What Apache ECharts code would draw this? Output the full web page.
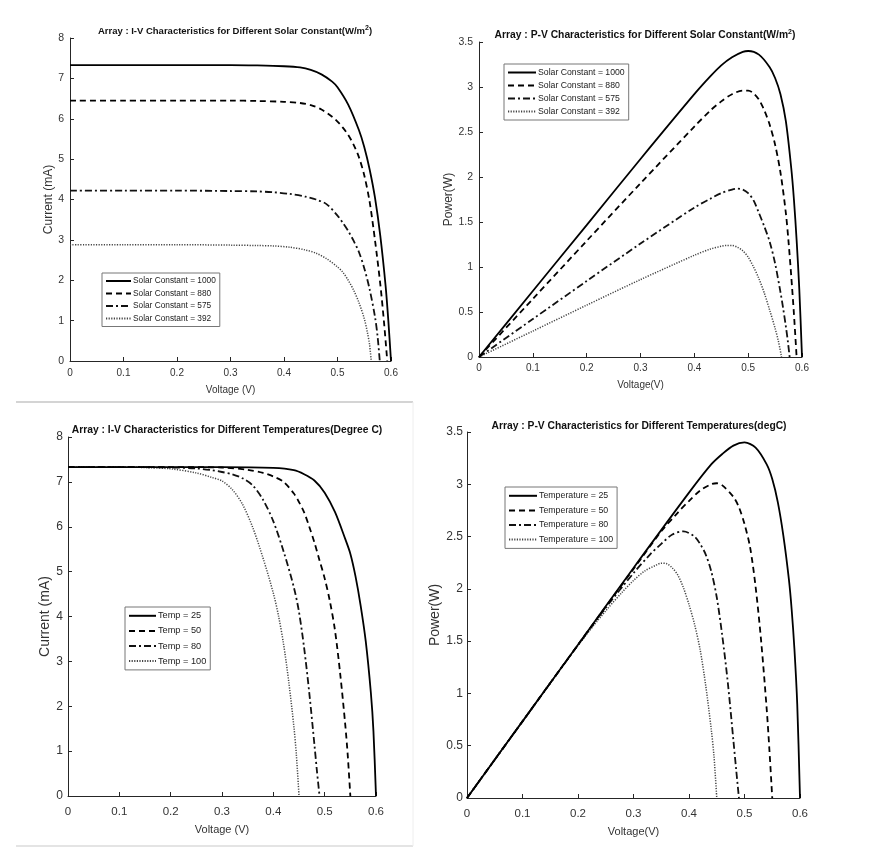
<!DOCTYPE html>
<html>
<head>
<meta charset="utf-8">
<script src="https://cdn.jsdelivr.net/npm/echarts@6/dist/echarts.min.js"></script>
<style>
html,body{margin:0;padding:0;background:#fff;}
#main{width:893px;height:855px;}
</style>
</head>
<body>
<div id="main"></div>
<script>
// legend names
var sunNames = ['Solar Constant = 1000', 'Solar Constant = 880', 'Solar Constant = 575', 'Solar Constant = 392'];
var tempIvNames = ['Temp = 25', 'Temp = 50', 'Temp = 80', 'Temp = 100'];
var tempPvNames = ['Temperature = 25', 'Temperature = 50', 'Temperature = 80', 'Temperature = 100'];

// axis ticks
var voltTicks = [0, 0.1, 0.2, 0.3, 0.4, 0.5, 0.6];
var currentTicks = [0, 1, 2, 3, 4, 5, 6, 7, 8];
var powerTicks = [0, 0.5, 1, 1.5, 2, 2.5, 3, 3.5];

// I-V, solar constant (voltage V / current mA)
var ivSun1000V = [0, 0.1, 0.2, 0.3, 0.35, 0.4, 0.43, 0.45, 0.47, 0.49, 0.5, 0.52, 0.54, 0.55, 0.56, 0.57, 0.58, 0.59, 0.595, 0.6];
var ivSun1000I = [7.33, 7.33, 7.33, 7.33, 7.32, 7.3, 7.27, 7.21, 7.1, 6.92, 6.78, 6.35, 5.72, 5.3, 4.75, 4.05, 3.1, 1.85, 1.0, 0];
var ivSun880V = [0, 0.1, 0.2, 0.3, 0.35, 0.4, 0.43, 0.45, 0.47, 0.49, 0.5, 0.51, 0.52, 0.53, 0.54, 0.55, 0.56, 0.57, 0.58, 0.587, 0.593];
var ivSun880I = [6.45, 6.45, 6.45, 6.45, 6.44, 6.42, 6.39, 6.34, 6.23, 6.05, 5.93, 5.78, 5.6, 5.36, 5.05, 4.6, 3.95, 3.0, 1.9, 0.95, 0];
var ivSun575V = [0, 0.1, 0.2, 0.3, 0.35, 0.38, 0.41, 0.44, 0.46, 0.48, 0.5, 0.51, 0.52, 0.53, 0.54, 0.55, 0.56, 0.57, 0.575, 0.579];
var ivSun575I = [4.22, 4.22, 4.22, 4.21, 4.2, 4.18, 4.14, 4.07, 4.0, 3.88, 3.6, 3.42, 3.22, 2.98, 2.7, 2.3, 1.78, 1.1, 0.6, 0];
var ivSun392V = [0, 0.1, 0.2, 0.3, 0.35, 0.38, 0.41, 0.44, 0.46, 0.48, 0.5, 0.51, 0.52, 0.53, 0.54, 0.55, 0.556, 0.56, 0.563];
var ivSun392I = [2.88, 2.88, 2.88, 2.87, 2.86, 2.85, 2.82, 2.75, 2.67, 2.53, 2.33, 2.2, 2.0, 1.76, 1.45, 1.05, 0.7, 0.4, 0];

// P-V, solar constant (voltage V / power W)
var pvSun1000V = [0, 0.1, 0.2, 0.3, 0.4, 0.43, 0.45, 0.47, 0.49, 0.5, 0.52, 0.54, 0.55, 0.56, 0.57, 0.58, 0.585, 0.59, 0.595, 0.6];
var pvSun1000P = [0, 0.733, 1.466, 2.2, 2.92, 3.12, 3.24, 3.33, 3.39, 3.4, 3.36, 3.22, 3.1, 2.92, 2.62, 2.1, 1.75, 1.3, 0.75, 0];
var pvSun880V = [0, 0.1, 0.2, 0.3, 0.4, 0.43, 0.45, 0.47, 0.49, 0.5, 0.51, 0.52, 0.53, 0.54, 0.55, 0.56, 0.57, 0.575, 0.58, 0.585, 0.59];
var pvSun880P = [0, 0.645, 1.29, 1.93, 2.56, 2.74, 2.84, 2.92, 2.96, 2.96, 2.93, 2.86, 2.74, 2.58, 2.36, 2.05, 1.6, 1.28, 0.9, 0.48, 0];
var pvSun575V = [0, 0.1, 0.2, 0.3, 0.4, 0.43, 0.45, 0.47, 0.48, 0.49, 0.5, 0.51, 0.52, 0.53, 0.54, 0.55, 0.56, 0.565, 0.57, 0.574, 0.577];
var pvSun575P = [0, 0.422, 0.844, 1.26, 1.66, 1.76, 1.82, 1.86, 1.87, 1.86, 1.82, 1.74, 1.6, 1.45, 1.28, 1.04, 0.72, 0.54, 0.34, 0.16, 0];
var pvSun392V = [0, 0.1, 0.2, 0.3, 0.4, 0.43, 0.45, 0.46, 0.47, 0.48, 0.49, 0.5, 0.51, 0.52, 0.53, 0.54, 0.55, 0.556, 0.562];
var pvSun392P = [0, 0.288, 0.576, 0.86, 1.13, 1.2, 1.23, 1.24, 1.24, 1.22, 1.18, 1.11, 1.0, 0.87, 0.71, 0.52, 0.32, 0.18, 0];

// I-V, temperature
var ivT25V = [0, 0.1, 0.2, 0.3, 0.4, 0.44, 0.46, 0.48, 0.5, 0.52, 0.54, 0.55, 0.56, 0.57, 0.58, 0.59, 0.595, 0.6];
var ivT25I = [7.33, 7.33, 7.33, 7.33, 7.31, 7.26, 7.17, 7.03, 6.76, 6.33, 5.73, 5.4, 4.9, 4.25, 3.45, 2.3, 1.45, 0];
var ivT50V = [0, 0.1, 0.2, 0.3, 0.35, 0.38, 0.4, 0.42, 0.44, 0.45, 0.46, 0.47, 0.48, 0.49, 0.5, 0.51, 0.52, 0.53, 0.54, 0.545, 0.55];
var ivT50I = [7.33, 7.33, 7.33, 7.32, 7.27, 7.2, 7.12, 7.0, 6.74, 6.55, 6.32, 6.0, 5.65, 5.25, 4.85, 4.35, 3.7, 2.75, 1.6, 0.9, 0];
var ivT80V = [0, 0.1, 0.2, 0.25, 0.28, 0.3, 0.32, 0.34, 0.36, 0.38, 0.4, 0.42, 0.44, 0.45, 0.46, 0.47, 0.48, 0.485, 0.49];
var ivT80I = [7.33, 7.33, 7.32, 7.3, 7.26, 7.22, 7.17, 7.08, 6.92, 6.6, 6.12, 5.45, 4.65, 4.1, 3.3, 2.3, 1.15, 0.55, 0];
var ivT100V = [0, 0.1, 0.15, 0.2, 0.25, 0.28, 0.3, 0.32, 0.34, 0.36, 0.38, 0.4, 0.41, 0.42, 0.43, 0.44, 0.445, 0.45];
var ivT100I = [7.33, 7.33, 7.32, 7.29, 7.2, 7.1, 7.02, 6.83, 6.5, 5.98, 5.3, 4.52, 4.02, 3.38, 2.55, 1.55, 0.9, 0];

// P-V, temperature
var pvT25V = [0, 0.1, 0.2, 0.3, 0.4, 0.44, 0.46, 0.48, 0.5, 0.52, 0.54, 0.55, 0.56, 0.57, 0.58, 0.585, 0.59, 0.595, 0.6];
var pvT25P = [0, 0.733, 1.466, 2.2, 2.92, 3.19, 3.29, 3.37, 3.4, 3.35, 3.19, 3.05, 2.83, 2.51, 2.09, 1.8, 1.42, 0.9, 0];
var pvT50V = [0, 0.1, 0.2, 0.3, 0.35, 0.38, 0.4, 0.42, 0.44, 0.45, 0.46, 0.48, 0.49, 0.5, 0.51, 0.52, 0.53, 0.54, 0.545, 0.55];
var pvT50P = [0, 0.733, 1.466, 2.19, 2.55, 2.73, 2.84, 2.94, 3.0, 3.01, 2.99, 2.88, 2.78, 2.62, 2.4, 2.02, 1.5, 0.85, 0.45, 0];
var pvT80V = [0, 0.1, 0.2, 0.25, 0.3, 0.33, 0.35, 0.37, 0.39, 0.41, 0.42, 0.43, 0.44, 0.45, 0.46, 0.47, 0.48, 0.485, 0.49];
var pvT80P = [0, 0.733, 1.462, 1.82, 2.15, 2.33, 2.43, 2.52, 2.55, 2.5, 2.43, 2.33, 2.17, 1.92, 1.55, 1.1, 0.55, 0.27, 0];
var pvT100V = [0, 0.1, 0.15, 0.2, 0.25, 0.28, 0.3, 0.32, 0.34, 0.35, 0.36, 0.37, 0.38, 0.39, 0.4, 0.41, 0.42, 0.43, 0.44, 0.445, 0.45];
var pvT100P = [0, 0.733, 1.098, 1.46, 1.79, 1.97, 2.08, 2.17, 2.225, 2.245, 2.24, 2.2, 2.13, 2.01, 1.85, 1.66, 1.42, 1.08, 0.66, 0.4, 0];

var FONT = 'Arial, "Liberation Sans", sans-serif';
var AXIS_COLOR = '#262626';
// solid, dashed, dash-dot, dotted
var lineTypes = ['solid', [6, 4], [7, 3, 2, 3], [1.2, 1.4]];
var lineWidths = [1.8, 1.8, 1.8, 1.5];
var lineColors = ['#000', '#000', '#111', '#444'];

var chart = echarts.init(document.getElementById('main'));

function pairs(v, y) {
	return v.map(function (x, i) { return [x, y[i]]; });
}

function curve(name, v, y, k, idx) {
	return {
		name: name,
		type: 'line',
		xAxisIndex: idx,
		yAxisIndex: idx,
		data: pairs(v, y),
		symbol: 'none',
		smooth: 0.3,
		silent: true,
		z: 10 - k,
		itemStyle: { color: lineColors[k] },
		lineStyle: { color: lineColors[k], width: lineWidths[k], type: lineTypes[k] }
	};
}

// o: {fs, lm, name, nfs, gap}
function xAx(idx, o) {
	return {
		gridIndex: idx, type: 'value', min: voltTicks[0], max: voltTicks[voltTicks.length - 1],
		interval: voltTicks[1] - voltTicks[0],
		name: o.name, nameLocation: 'middle', nameGap: o.gap,
		nameTextStyle: { color: '#333', fontSize: o.nfs, fontFamily: FONT },
		axisLine: { lineStyle: { color: AXIS_COLOR, width: 1 } },
		axisTick: { inside: true, length: 4, lineStyle: { color: AXIS_COLOR } },
		axisLabel: { color: '#333', fontSize: o.fs, fontFamily: FONT, margin: o.lm },
		splitLine: { show: false }
	};
}

function yAx(idx, ticks, o) {
	return {
		gridIndex: idx, type: 'value', min: ticks[0], max: ticks[ticks.length - 1],
		interval: ticks[1] - ticks[0],
		name: o.name, nameLocation: 'middle', nameGap: o.gap,
		nameTextStyle: { color: '#333', fontSize: o.nfs, fontFamily: FONT },
		axisLine: { show: true, lineStyle: { color: AXIS_COLOR, width: 1 } },
		axisTick: { show: true, inside: true, length: 4, lineStyle: { color: AXIS_COLOR } },
		axisLabel: { color: '#333', fontSize: o.fs, fontFamily: FONT, margin: o.lm },
		splitLine: { show: false }
	};
}

function legendAt(names, left, top, fs, gap, iw, ih) {
	return {
		data: names, orient: 'vertical', left: left, top: top,
		selectedMode: false,
		backgroundColor: '#fff', borderColor: '#777', borderWidth: 1, borderRadius: 0,
		padding: [4, 4, 4, 3], itemGap: gap, itemWidth: iw, itemHeight: ih,
		// 图例不画圆点
		itemStyle: { color: 'rgba(0,0,0,0)', borderWidth: 0, opacity: 0 },
		textStyle: { color: '#222', fontSize: fs, fontFamily: FONT, padding: [0, 0, 0, -3] }
	};
}

function title(text, left, top, fs) {
	return {
		text: text, left: left, top: top, textAlign: 'center',
		textStyle: {
			color: '#111', fontSize: fs, fontWeight: 'bold', fontFamily: FONT,
			rich: { sup: { fontSize: 7, fontWeight: 'bold', fontFamily: FONT, color: '#111', padding: [0, 0, 6, 0] } }
		}
	};
}

var series = [];
series.push(curve(sunNames[0], ivSun1000V, ivSun1000I, 0, 0));
series.push(curve(sunNames[1], ivSun880V, ivSun880I, 1, 0));
series.push(curve(sunNames[2], ivSun575V, ivSun575I, 2, 0));
series.push(curve(sunNames[3], ivSun392V, ivSun392I, 3, 0));
series.push(curve(sunNames[0], pvSun1000V, pvSun1000P, 0, 1));
series.push(curve(sunNames[1], pvSun880V, pvSun880P, 1, 1));
series.push(curve(sunNames[2], pvSun575V, pvSun575P, 2, 1));
series.push(curve(sunNames[3], pvSun392V, pvSun392P, 3, 1));
series.push(curve(tempIvNames[0], ivT25V, ivT25I, 0, 2));
series.push(curve(tempIvNames[1], ivT50V, ivT50I, 1, 2));
series.push(curve(tempIvNames[2], ivT80V, ivT80I, 2, 2));
series.push(curve(tempIvNames[3], ivT100V, ivT100I, 3, 2));
series.push(curve(tempPvNames[0], pvT25V, pvT25P, 0, 3));
series.push(curve(tempPvNames[1], pvT50V, pvT50P, 1, 3));
series.push(curve(tempPvNames[2], pvT80V, pvT80P, 2, 3));
series.push(curve(tempPvNames[3], pvT100V, pvT100P, 3, 3));

var option = {
	backgroundColor: '#fff',
	animation: false,
	title: [
		title('Array : I-V Characteristics for Different Solar Constant(W/m{sup|2})', 230, 20, 9.5),
		title('Array : P-V Characteristics for Different Solar Constant(W/m{sup|2})', 640, 24, 10.3),
		title('Array : I-V Characteristics for Different Temperatures(Degree C)', 222, 420, 10.3),
		title('Array : P-V Characteristics for Different Temperatures(degC)', 634, 416, 10.3)
	],
	grid: [
		{ left: 70, top: 38, width: 321, height: 323 },
		{ left: 479, top: 42, width: 323, height: 315 },
		{ left: 68, top: 437, width: 308, height: 359 },
		{ left: 467, top: 432, width: 333, height: 366 }
	],
	xAxis: [
		xAx(0, { fs: 10, lm: 7, name: 'Voltage (V)', nfs: 10, gap: 24 }),
		xAx(1, { fs: 10, lm: 6, name: 'Voltage(V)', nfs: 10, gap: 23 }),
		xAx(2, { fs: 11.5, lm: 10, name: 'Voltage (V)', nfs: 11, gap: 28 }),
		xAx(3, { fs: 11.5, lm: 10, name: 'Voltage(V)', nfs: 11, gap: 28.5 })
	],
	yAxis: [
		yAx(0, currentTicks, { fs: 10.5, lm: 6, name: 'Current (mA)', nfs: 12, gap: 11 }),
		yAx(1, powerTicks, { fs: 10.5, lm: 6, name: 'Power(W)', nfs: 12, gap: 21 }),
		yAx(2, currentTicks, { fs: 12, lm: 5, name: 'Current (mA)', nfs: 14, gap: 12 }),
		yAx(3, powerTicks, { fs: 12, lm: 4, name: 'Power(W)', nfs: 14, gap: 19 })
	],
	legend: [
		legendAt(sunNames, 102, 273, 8.3, 4.5, 25, 10),
		legendAt(sunNames, 504, 64, 8.7, 4, 28, 10),
		legendAt(tempIvNames, 125, 607, 9.2, 5.5, 27, 12),
		legendAt(tempPvNames, 505, 487, 8.8, 5, 28, 12)
	],
	graphic: [
		{ type: 'line', shape: { x1: 16, y1: 402, x2: 413, y2: 402 }, style: { stroke: '#d4d4d4', lineWidth: 2 }, silent: true },
		{ type: 'line', shape: { x1: 16, y1: 846, x2: 413, y2: 846 }, style: { stroke: '#e4e4e4', lineWidth: 2 }, silent: true },
		{ type: 'line', shape: { x1: 413, y1: 402, x2: 413, y2: 846 }, style: { stroke: '#eeeeee', lineWidth: 1 }, silent: true }
	],
	series: series
};

chart.setOption(option);
</script>
</body>
</html>
